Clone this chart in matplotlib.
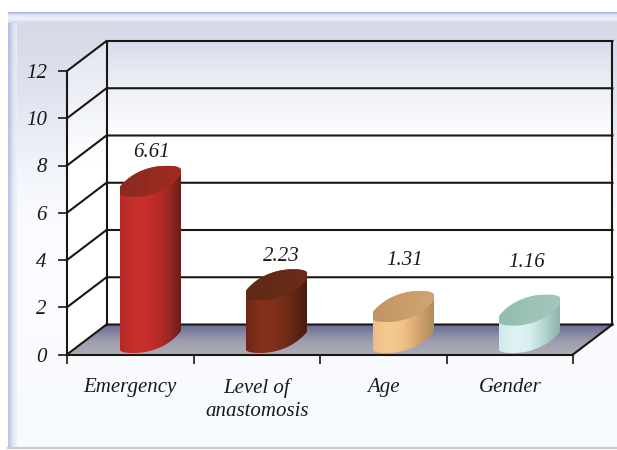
import numpy as np
import matplotlib
matplotlib.use("Agg")
import matplotlib.pyplot as plt
from matplotlib.colors import LinearSegmentedColormap
from matplotlib.patches import Polygon

plt.rcParams["font.family"] = "Liberation Serif"
plt.rcParams["font.style"] = "italic"

categories = ["Emergency", "Level of\nanastomosis", "Age", "Gender"]
values = [6.61, 2.23, 1.31, 1.16]
value_labels = ["6.61", "2.23", "1.31", "1.16"]
y_ticks = [0, 2, 4, 6, 8, 10, 12]

# body gradient left to right, then lid colours
body_colors = [
    ["#b42a28", "#c9302c", "#c42e2a", "#a82825", "#6a1e1b"],
    ["#6e2714", "#86321c", "#7e2f1a", "#682816", "#461c10"],
    ["#eebd84", "#f6cb92", "#f0c28a", "#d4a470", "#b08a5a"],
    ["#cfeaea", "#dff3f4", "#d8efef", "#b4d4ce", "#8fb2aa"],
]
lid_colors = [
    ("#8a2a20", "#a02c22"),
    ("#5e2a16", "#6c2c18"),
    ("#c49464", "#d0a474"),
    ("#94bcb0", "#a4c6bc"),
]
LINE = "#1c1510"
TEXT = "#1a1a1a"
W, H = 617, 450
X0, X1, Y0, Y1 = 67, 573, 354.5, 71

fig = plt.figure(figsize=(W / 100, H / 100), dpi=100, facecolor="white")

# panel behind the chart, in pixels
bg = fig.add_axes([0, 0, 1, 1], zorder=0)
bg.axis("off")
panel = LinearSegmentedColormap.from_list(
    "panel", [(0, "#d3d7e7"), (0.18, "#dfe3f0"), (0.38, "#f3f6fc"), (0.5, "#fbfcff"), (1, "#f7fafd")])
bg.imshow(np.linspace(0, 1, 256)[:, None], cmap=panel, extent=[8, W, 447, 12], aspect="auto")
side = LinearSegmentedColormap.from_list("side", ["#aab4d8", "#c6cde6", "#e4e8f4", "#eef1f9"])
bg.imshow(np.linspace(0, 1, 32)[None, :], cmap=side, extent=[8, 17, 447, 12], aspect="auto", alpha=0.8)
top_band = LinearSegmentedColormap.from_list(
    "top", [(0, "#a9b3d8"), (0.25, "#dfe4f2"), (0.6, "#eff2f9"), (1, "#d6daea")])
bg.imshow(np.linspace(0, 1, 32)[:, None], cmap=top_band, extent=[8, W, 23, 12], aspect="auto")
bg.plot([8, W], [447.5, 447.5], color="#c6cad4", lw=1.5)
bg.set_xlim(0, W)
bg.set_ylim(H, 0)

ax = fig.add_axes([X0 / W, 1 - Y0 / H, (X1 - X0) / W, (Y0 - Y1) / H], zorder=1)
ax.patch.set_visible(False)
n = len(categories)
ymax = y_ticks[-1]
xu = (X1 - X0) / n
yu = (Y0 - Y1) / ymax
DX = 39.5 / xu
DY = 30 / yu


def gradient(colors, extent, clip, zorder, vertical=False):
    cmap = LinearSegmentedColormap.from_list("g", colors)
    g = np.linspace(0, 1, 128)
    g = g[:, None] if vertical else g[None, :]
    im = ax.imshow(g, cmap=cmap, extent=extent, aspect="auto", origin="lower",
                   interpolation="bilinear", zorder=zorder)
    poly = Polygon(clip, closed=True, transform=ax.transData)
    im.set_clip_path(poly)
    im.set_clip_box(fig.bbox)


# walls and floor
wall = [(0, "#ffffff"), (0.66, "#ffffff"), (0.83, "#eef1f8"), (1, "#d9deec")]
gradient(wall, [0, n + DX, DY, ymax + DY],
         [(DX, DY), (n + DX, DY), (n + DX, ymax + DY), (DX, ymax + DY)], 0.5, vertical=True)
side_wall = [(0, "#ffffff"), (0.62, "#ffffff"), (0.8, "#eff2f9"), (1, "#e2e6f2")]
gradient(side_wall, [0, DX, 0, ymax + DY],
         [(0, 0), (DX, DY), (DX, ymax + DY), (0, ymax)], 0.5, vertical=True)
gradient(["#aeaeb8", "#9c9cae", "#6a6c96"], [0, n + DX, 0, DY],
         [(0, 0), (n, 0), (n + DX, DY), (DX, DY)], 0.6, vertical=True)

# grid lines on the walls
for t in y_ticks:
    ax.plot([0, DX, n + DX], [t, t + DY, t + DY], color=LINE, lw=1.5, clip_on=False, zorder=1,
            solid_joinstyle="miter")
ax.plot([DX, DX], [DY, ymax + DY], color=LINE, lw=1.5, clip_on=False, zorder=1)
ax.plot([n + DX, n + DX], [DY, ymax + DY], color=LINE, lw=1.5, clip_on=False, zorder=1)
ax.plot([n, n + DX], [0, DY], color=LINE, lw=1.5, clip_on=False, zorder=1)

# cylinders, sheared rounded ellipses sitting on the floor
A, B, C = 25 / xu, 17 / xu, 15.5 / yu
R = np.hypot(A, B)
phi = np.arctan2(B, A)
floor_y = 17 / yu


def ring(t):
    # slightly squarer than a true ellipse, like the rounded bar ends
    c, s = np.cos(t), np.sin(t)
    return np.sign(c) * np.abs(c) ** 0.85, np.sign(s) * np.abs(s) ** 0.85


for i, v in enumerate(values):
    cx = i + 0.5 + DX / 2
    base = floor_y
    top = floor_y + v
    c_low, s_low = ring(np.linspace(phi, phi - np.pi, 80))
    c_up, s_up = ring(np.linspace(phi - np.pi, phi - 2 * np.pi, 80))
    low = np.c_[cx + A * c_low + B * s_low, base + C * s_low]
    up = np.c_[cx + A * c_up + B * s_up, top + C * s_up]
    gradient(body_colors[i], [cx - R, cx + R, base - C, top + C], np.r_[low, up], 3 + i * 0.1)
    c_all, s_all = ring(np.linspace(0, 2 * np.pi, 160))
    lid = np.c_[cx + A * c_all + B * s_all, top + C * s_all]
    gradient(lid_colors[i], [cx - R, cx + R, top - C, top + C], lid, 3.05 + i * 0.1)

label_lift = [1.93, 1.90, 2.66, 2.73]
label_shift = [2, 5, 2, -3]
for i, (v, s) in enumerate(zip(values, value_labels)):
    ax.text(i + 0.5 + DX / 2 + label_shift[i] / xu, v + label_lift[i], s, ha="center", va="center",
            fontsize=15, color=TEXT, zorder=5)

ax.set_xlim(0, n)
ax.set_ylim(0, ymax)
ax.set_yticks(y_ticks)
ax.set_yticklabels([str(t) for t in y_ticks], fontsize=15, color=TEXT)
ax.set_xticks(np.arange(n + 1))
ax.set_xticklabels([])
ax.set_xticks(np.arange(n) + 0.5, minor=True)
ax.set_xticklabels(categories, minor=True, fontsize=15, color=TEXT, linespacing=1.3)
ax.tick_params(axis="both", which="major", length=6.5, width=1.2, color=LINE, direction="out")
ax.tick_params(axis="x", which="minor", length=0, pad=17)
ax.tick_params(axis="y", which="major", pad=8)
for s in ["top", "right"]:
    ax.spines[s].set_visible(False)
for s in ["left", "bottom"]:
    ax.spines[s].set_linewidth(1.5)
    ax.spines[s].set_color(LINE)

fig.savefig("out.png", dpi=100)
